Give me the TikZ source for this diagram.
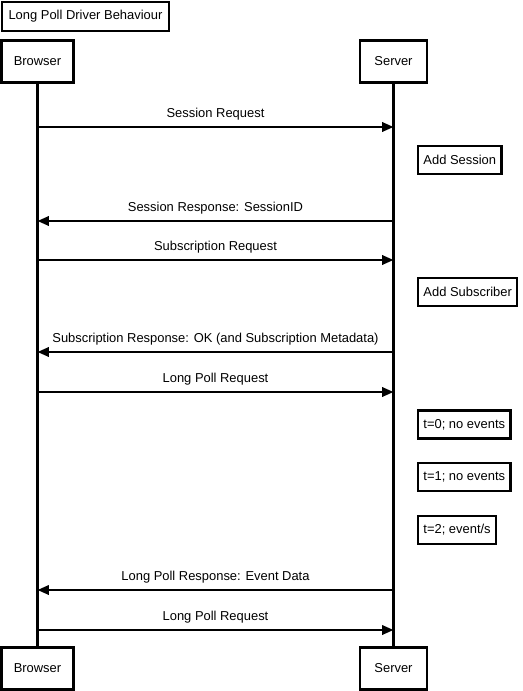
\documentclass[tikz,border=0pt]{standalone}
\usepackage{fontspec}
\setmainfont{Liberation Sans}
\usetikzlibrary{arrows.meta,positioning}

\tikzset{
  actor/.style={draw, line width=1.7pt, minimum height=31.5pt, inner sep=0pt},
  note/.style={draw, line width=1.7pt, minimum height=21pt, inner xsep=4pt, anchor=west},
  life/.style={line width=1.7pt},
  msg/.style={line width=1.7pt, -{Triangle[length=8.5pt,width=7pt]}},
  lbl/.style={above, inner sep=4pt, text height=7.5pt, text depth=2pt},
}

\begin{document}
\begin{tikzpicture}[x=0.75pt, y=-0.75pt, font=\fontsize{9.7}{12}\selectfont]
  \useasboundingbox (0,0) rectangle (522,691);

  \node[draw, line width=1.7pt, minimum width=125pt, minimum height=21.5pt, anchor=north west] (title) at (1,1) {Long Poll Driver Behaviour};

  \node[actor, minimum width=54pt] (btop) at (37.5,61.5) {Browser};
  \node[actor, minimum width=50pt] (stop) at (393.5,61.5) {Server};
  \node[actor, minimum width=54pt] (bbot) at (37.5,668.5) {Browser};
  \node[actor, minimum width=50pt] (sbot) at (393.5,668.5) {Server};

  \draw[life] (btop) -- (bbot);
  \draw[life] (stop) -- (sbot);

  % message rows
  \foreach \y/\n in {127/1, 221/2, 260/3, 352/4, 392/5, 590/6, 630/7} {
    \coordinate (b\n) at (37.5,\y);
    \coordinate (s\n) at (393.5,\y);
  }

  \path[msg]
    (b1) edge node[lbl] {Session Request} (s1)
    (s2) edge node[lbl] {Session Response: SessionID} (b2)
    (b3) edge node[lbl] {Subscription Request} (s3)
    (s4) edge node[lbl] {Subscription Response: OK (and Subscription Metadata)} (b4)
    (b5) edge node[lbl] {Long Poll Request} (s5)
    (s6) edge node[lbl] {Long Poll Response: Event Data} (b6)
    (b7) edge node[lbl] {Long Poll Request} (s7)
    ;

  \node[note] (addsess) at (417,160) {Add Session};
  \node[note] (addsub) at (417,292) {Add Subscriber};
  \node[note] (tzero) at (417,424.5) {t=0; no events};
  \node[note] (tone) at (417,477) {t=1; no events};
  \node[note] (ttwo) at (417,530) {t=2; event/s};
\end{tikzpicture}
\end{document}
